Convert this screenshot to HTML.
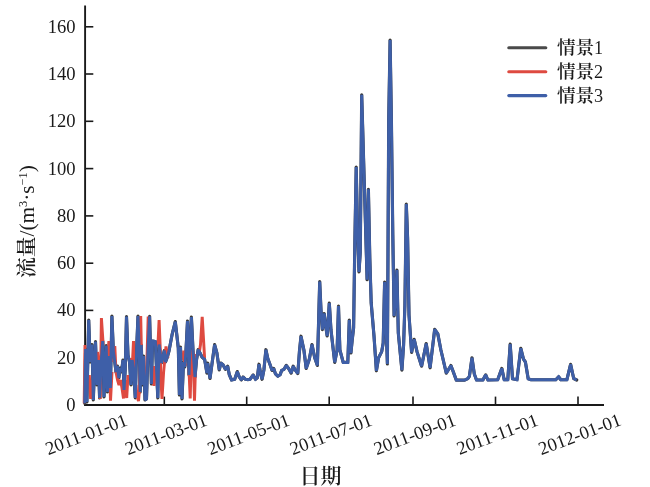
<!DOCTYPE html>
<html lang="zh"><head><meta charset="utf-8"><title>流量</title>
<style>html,body{margin:0;padding:0;background:#fff;}body{width:650px;height:487px;position:relative;overflow:hidden;font-family:"Liberation Serif","Noto Serif CJK SC",serif;}</style></head>
<body>
<svg width="650" height="487" viewBox="0 0 650 487" style="position:absolute;left:0;top:0">
<rect width="650" height="487" fill="#ffffff"/>
<g stroke="#1a1a1a" stroke-width="1.9" fill="none" stroke-linecap="butt">
<path d="M85.1,5.5 V405.9"/>
<path d="M84.2,405.0 H604" stroke-width="1.8"/>
<path d="M85,357.7 H93.3" stroke-width="1.6"/>
<path d="M85,310.4 H93.3" stroke-width="1.6"/>
<path d="M85,263.2 H93.3" stroke-width="1.6"/>
<path d="M85,215.9 H93.3" stroke-width="1.6"/>
<path d="M85,168.6 H93.3" stroke-width="1.6"/>
<path d="M85,121.3 H93.3" stroke-width="1.6"/>
<path d="M85,74.0 H93.3" stroke-width="1.6"/>
<path d="M85,26.8 H93.3" stroke-width="1.6"/>
<path d="M164.3,405.0 V396.6" stroke-width="1.6"/>
<path d="M246.7,405.0 V396.6" stroke-width="1.6"/>
<path d="M329.2,405.0 V396.6" stroke-width="1.6"/>
<path d="M413.0,405.0 V396.6" stroke-width="1.6"/>
<path d="M495.5,405.0 V396.6" stroke-width="1.6"/>
<path d="M578.0,405.0 V396.6" stroke-width="1.6"/>
</g>
<polyline points="84.7,403.3 85.6,349.0 86.9,402.0 88.7,320.0 90.2,362.0 92.0,344.5 93.3,400.0 95.5,341.5 97.0,385.0 98.3,360.0 99.6,398.0 101.0,365.0 102.7,341.0 104.0,397.0 106.2,345.5 107.5,392.0 109.3,356.0 110.4,388.0 111.9,316.0 113.4,352.0 114.8,362.0 116.0,372.0 117.5,366.0 118.8,378.0 120.2,368.0 121.5,372.0 123.0,360.0 124.0,390.0 125.2,370.0 126.5,316.5 128.0,355.0 129.5,362.0 131.0,385.0 132.2,360.0 133.6,372.0 135.3,398.0 136.6,350.0 138.0,316.0 139.2,350.0 140.2,392.0 141.3,345.0 142.5,385.0 143.6,356.0 145.0,400.0 146.5,399.0 148.0,350.0 149.6,316.3 151.4,384.0 152.6,341.0 155.3,341.5 157.8,398.0 159.0,344.5 161.5,363.0 164.3,350.5 165.5,362.0 167.0,358.0 169.0,351.0 172.0,335.0 175.3,321.6 178.3,348.0 179.4,395.0 180.5,347.0 182.0,399.0 183.5,362.0 184.8,367.0 186.0,350.0 187.5,321.0 189.0,375.0 190.0,345.0 191.4,317.0 193.0,350.0 195.0,377.0 196.5,360.0 198.2,349.6 200.0,353.0 202.0,357.0 204.6,359.3 206.9,373.1 207.7,363.1 210.0,378.5 214.6,344.6 216.9,353.0 219.3,370.0 220.8,363.0 223.0,364.7 225.4,369.3 227.7,366.2 229.3,374.7 231.6,380.0 234.7,379.3 237.3,371.6 239.3,377.0 241.3,380.0 243.1,377.0 245.5,379.3 247.8,379.6 250.0,379.3 253.2,375.0 255.5,379.3 257.3,377.8 259.0,364.2 260.9,374.7 262.1,379.3 263.9,370.0 265.9,349.7 267.8,358.5 270.1,364.7 272.1,370.4 273.7,368.5 275.5,373.9 277.8,376.2 280.1,374.7 281.7,370.4 284.0,369.3 286.3,365.4 288.6,368.5 291.2,373.1 293.2,366.2 295.5,370.4 297.8,373.5 299.4,352.0 301.0,336.2 303.9,350.0 306.2,368.5 309.3,359.3 312.0,344.6 314.7,357.7 317.4,365.4 319.7,281.6 321.0,310.0 322.4,329.7 324.2,313.5 325.5,325.0 327.2,336.0 329.3,303.0 331.0,330.0 334.7,362.4 337.1,350.0 338.5,306.0 339.9,350.0 343.2,362.4 347.8,362.4 349.3,320.0 350.9,353.0 352.2,340.0 353.6,328.0 354.8,245.0 356.2,167.0 357.6,232.0 359.0,272.0 360.3,252.0 361.7,94.8 367.1,279.7 368.4,189.3 369.8,258.0 371.2,303.0 374.0,336.0 376.4,370.8 378.6,357.7 381.7,351.6 383.2,343.0 384.6,282.0 387.4,363.9 388.7,120.0 390.1,40.0 391.4,120.0 392.8,235.0 394.1,316.0 395.5,298.0 396.9,270.0 398.3,333.0 401.9,370.1 403.6,345.0 404.9,305.0 406.3,204.0 407.6,238.0 409.0,315.0 411.6,352.4 414.2,339.3 417.0,351.6 421.6,366.2 426.2,343.6 430.1,367.8 432.4,348.5 434.7,329.3 437.8,333.9 440.9,350.0 446.3,373.2 450.9,365.5 453.2,371.6 456.3,380.1 464.7,380.1 467.8,378.6 469.4,376.3 472.0,357.8 474.3,374.0 476.5,380.0 482.9,380.0 485.7,374.8 487.9,380.0 497.7,379.7 501.8,368.4 504.2,379.7 507.8,379.7 510.2,344.0 512.5,378.8 517.0,379.7 520.8,348.3 523.5,359.2 525.4,362.0 528.2,378.8 531.0,379.7 555.8,379.7 558.6,376.7 560.8,379.7 566.9,379.7 570.6,364.3 573.7,378.5 576.7,380.0" fill="none" stroke="#3a3a3a" stroke-width="3.15" stroke-linejoin="round" stroke-linecap="round"/>
<path d="M84.2,403.3 L85.0,345.0 L86.0,400.0 M89.3,375.0 L90.6,399.0 L91.8,380.0 M97.5,352.0 L98.5,362.0 L100.3,399.0 L101.4,318.0 L103.2,345.0 M107.5,360.0 L108.9,341.0 L110.5,400.7 L112.0,372.0 M113.5,362.0 L114.8,346.0 L116.0,372.0 L117.5,380.0 L119.0,385.0 L120.5,380.0 L122.0,388.0 L123.5,398.5 L125.0,380.0 L126.7,398.0 L128.0,375.0 M131.2,358.0 L132.0,372.0 L133.5,341.0 L134.8,375.0 M136.0,385.0 L137.0,396.0 L138.5,401.0 L139.5,390.0 L140.7,316.0 L142.0,380.0 M145.2,368.0 L145.6,378.0 M146.6,372.0 L148.2,316.5 L149.0,340.0 M152.5,366.0 L154.0,386.0 L155.5,366.0 M157.9,346.0 L159.1,320.0 L160.4,352.0 L160.6,372.0 L162.0,399.0 L163.6,372.0 L166.0,346.5 L168.0,358.0 M183.0,360.0 L183.7,350.5 L184.5,362.0 L185.8,366.0 M188.9,368.0 L190.2,398.5 L191.5,350.0 L193.1,352.0 L194.5,400.7 L195.9,354.0 M199.5,351.0 L200.5,344.6 L202.2,316.8 L204.6,358.0" fill="none" stroke="#DE4A40" stroke-width="2.95" stroke-linejoin="miter" stroke-miterlimit="1.6" stroke-linecap="butt"/>
<polyline points="84.7,403.3 85.6,349.0 86.9,402.0 88.7,320.0 90.2,362.0 92.0,344.5 93.3,400.0 95.5,341.5 97.0,385.0 98.3,360.0 99.6,398.0 101.0,365.0 102.7,341.0 104.0,397.0 106.2,345.5 107.5,392.0 109.3,356.0 110.4,388.0 111.9,316.0 113.4,352.0 114.8,362.0 116.0,372.0 117.5,366.0 118.8,378.0 120.2,368.0 121.5,372.0 123.0,360.0 124.0,390.0 125.2,370.0 126.5,316.5 128.0,355.0 129.5,362.0 131.0,385.0 132.2,360.0 133.6,372.0 135.3,398.0 136.6,350.0 138.0,316.0 139.2,350.0 140.2,392.0 141.3,345.0 142.5,385.0 143.6,356.0 145.0,400.0 146.5,399.0 148.0,350.0 149.6,316.3 151.4,384.0 152.6,341.0 155.3,341.5 157.8,398.0 159.0,344.5 161.5,363.0 164.3,350.5 165.5,362.0 167.0,358.0 169.0,351.0 172.0,335.0 175.3,321.6 178.3,348.0 179.4,395.0 180.5,347.0 182.0,399.0 183.5,362.0 184.8,367.0 186.0,350.0 187.5,321.0 189.0,375.0 190.0,345.0 191.4,317.0 193.0,350.0 195.0,377.0 196.5,360.0 198.2,349.6 200.0,353.0 202.0,357.0 204.6,359.3 206.9,373.1 207.7,363.1 210.0,378.5 214.6,344.6 216.9,353.0 219.3,370.0 220.8,363.0 223.0,364.7 225.4,369.3 227.7,366.2 229.3,374.7 231.6,380.0 234.7,379.3 237.3,371.6 239.3,377.0 241.3,380.0 243.1,377.0 245.5,379.3 247.8,379.6 250.0,379.3 253.2,375.0 255.5,379.3 257.3,377.8 259.0,364.2 260.9,374.7 262.1,379.3 263.9,370.0 265.9,349.7 267.8,358.5 270.1,364.7 272.1,370.4 273.7,368.5 275.5,373.9 277.8,376.2 280.1,374.7 281.7,370.4 284.0,369.3 286.3,365.4 288.6,368.5 291.2,373.1 293.2,366.2 295.5,370.4 297.8,373.5 299.4,352.0 301.0,336.2 303.9,350.0 306.2,368.5 309.3,359.3 312.0,344.6 314.7,357.7 317.4,365.4 319.7,281.6 321.0,310.0 322.4,329.7 324.2,313.5 325.5,325.0 327.2,336.0 329.3,303.0 331.0,330.0 334.7,362.4 337.1,350.0 338.5,306.0 339.9,350.0 343.2,362.4 347.8,362.4 349.3,320.0 350.9,353.0 352.2,340.0 353.6,328.0 354.8,245.0 356.2,167.0 357.6,232.0 359.0,272.0 360.3,252.0 361.7,94.8 367.1,279.7 368.4,189.3 369.8,258.0 371.2,303.0 374.0,336.0 376.4,370.8 378.6,357.7 381.7,351.6 383.2,343.0 384.6,282.0 387.4,363.9 388.7,120.0 390.1,40.0 391.4,120.0 392.8,235.0 394.1,316.0 395.5,298.0 396.9,270.0 398.3,333.0 401.9,370.1 403.6,345.0 404.9,305.0 406.3,204.0 407.6,238.0 409.0,315.0 411.6,352.4 414.2,339.3 417.0,351.6 421.6,366.2 426.2,343.6 430.1,367.8 432.4,348.5 434.7,329.3 437.8,333.9 440.9,350.0 446.3,373.2 450.9,365.5 453.2,371.6 456.3,380.1 464.7,380.1 467.8,378.6 469.4,376.3 472.0,357.8 474.3,374.0 476.5,380.0 482.9,380.0 485.7,374.8 487.9,380.0 497.7,379.7 501.8,368.4 504.2,379.7 507.8,379.7 510.2,344.0 512.5,378.8 517.0,379.7 520.8,348.3 523.5,359.2 525.4,362.0 528.2,378.8 531.0,379.7 555.8,379.7 558.6,376.7 560.8,379.7 566.9,379.7 570.6,364.3 573.7,378.5 576.7,380.0" fill="none" stroke="#3E5FA8" stroke-width="2.95" stroke-linejoin="miter" stroke-miterlimit="1.6" stroke-linecap="butt"/>
<g font-family="'Liberation Serif', 'Noto Serif CJK SC', serif" font-size="18.6" fill="#1a1a1a">
<text x="75.6" y="411.0" text-anchor="end">0</text>
<text x="75.6" y="363.7" text-anchor="end">20</text>
<text x="75.6" y="316.4" text-anchor="end">40</text>
<text x="75.6" y="269.2" text-anchor="end">60</text>
<text x="75.6" y="221.9" text-anchor="end">80</text>
<text x="75.6" y="174.6" text-anchor="end">100</text>
<text x="75.6" y="127.3" text-anchor="end">120</text>
<text x="75.6" y="80.0" text-anchor="end">140</text>
<text x="75.6" y="32.8" text-anchor="end">160</text>
<text transform="translate(86.3,434.4) rotate(-20.6)" text-anchor="middle" y="6">2011-01-01</text>
<text transform="translate(166.1,434.4) rotate(-20.6)" text-anchor="middle" y="6">2011-03-01</text>
<text transform="translate(248.5,434.4) rotate(-20.6)" text-anchor="middle" y="6">2011-05-01</text>
<text transform="translate(331.0,434.4) rotate(-20.6)" text-anchor="middle" y="6">2011-07-01</text>
<text transform="translate(414.8,434.4) rotate(-20.6)" text-anchor="middle" y="6">2011-09-01</text>
<text transform="translate(497.3,434.4) rotate(-20.6)" text-anchor="middle" y="6">2011-11-01</text>
<text transform="translate(579.8,434.4) rotate(-20.6)" text-anchor="middle" y="6">2012-01-01</text>
</g>
<g font-family="'Liberation Serif', 'Noto Serif CJK SC', serif" fill="#1a1a1a">
<text x="320.4" y="482.9" font-size="21" font-weight="600" text-anchor="middle">日期</text>
<text transform="translate(33.9,221.6) rotate(-90)" font-size="21.3" text-anchor="middle"><tspan font-weight="600" font-size="20.8">流量</tspan>/(m<tspan font-size="12.3" dy="-6.8">3</tspan><tspan dy="6.8">·s</tspan><tspan font-size="12.3" dy="-6.8">−1</tspan><tspan dy="6.8">)</tspan></text>
<path d="M508.8,47.8 H545.8" stroke="#4a4a4a" stroke-width="3.1" stroke-linecap="round"/>
<text x="556.9" y="54.3" font-size="18.2"><tspan font-weight="600" font-size="18.6">情景</tspan>1</text>
<path d="M508.8,71.7 H545.8" stroke="#DE4A40" stroke-width="3.1" stroke-linecap="round"/>
<text x="556.9" y="78.2" font-size="18.2"><tspan font-weight="600" font-size="18.6">情景</tspan>2</text>
<path d="M508.8,95.6 H545.8" stroke="#3E5FA8" stroke-width="3.1" stroke-linecap="round"/>
<text x="556.9" y="102.1" font-size="18.2"><tspan font-weight="600" font-size="18.6">情景</tspan>3</text>
</g>
</svg>
</body></html>
